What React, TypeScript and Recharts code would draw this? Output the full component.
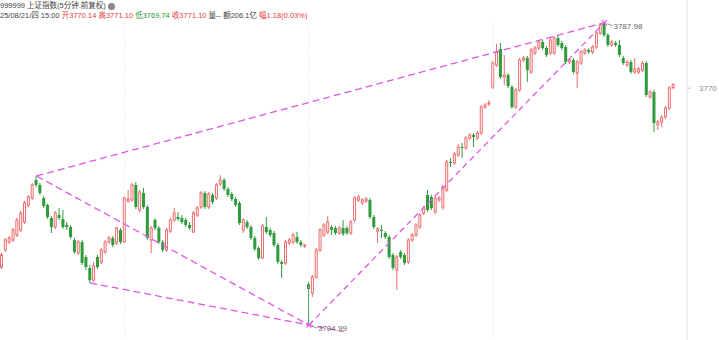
import { ComposedChart, Bar, XAxis, YAxis, ReferenceLine, ReferenceDot } from 'recharts';

// 5-minute bars, 999999 上证指数, last 176 bars (4 sessions, first one partial)
const opens = [
  3720.92, 3725.58, 3727.78, 3728.33, 3729.70, 3731.07, 3733.27, 3737.94, 3739.86, 3744.80,
  3743.43, 3739.86, 3737.94, 3734.37, 3731.90, 3735.19, 3734.09, 3732.45, 3731.90, 3728.33,
  3724.76, 3727.78, 3723.66, 3720.64, 3717.35, 3723.66, 3722.29, 3725.04, 3727.78, 3728.88,
  3727.51, 3731.07, 3727.78, 3739.04, 3739.31, 3743.43, 3736.56, 3741.23, 3737.39, 3728.33,
  3733.82, 3731.62, 3727.78, 3725.58, 3730.80, 3733.82, 3734.64, 3734.37, 3733.82, 3732.45,
  3730.53, 3735.19, 3737.39, 3741.23, 3737.39, 3740.68, 3739.86, 3743.70, 3744.80, 3742.33,
  3740.96, 3739.58, 3738.49, 3731.07, 3733.27, 3731.90, 3728.88, 3726.13, 3723.39, 3731.90,
  3731.07, 3730.25, 3726.96, 3722.29, 3722.02, 3727.51, 3727.78, 3729.15, 3727.78, 3726.68,
  3716.25, 3713.78, 3718.17, 3725.58, 3729.70, 3730.53, 3731.90, 3731.62, 3730.25, 3731.62,
  3731.62, 3730.25, 3733.82, 3739.31, 3738.49, 3739.04, 3739.31, 3734.64, 3730.80, 3731.07,
  3730.25, 3729.15, 3724.21, 3720.09, 3725.04, 3724.21, 3722.29, 3728.33, 3729.70, 3731.90,
  3735.74, 3740.68, 3740.13, 3736.02, 3739.31, 3737.39, 3742.05, 3749.74, 3749.47, 3751.66,
  3753.86, 3753.58, 3756.33, 3757.15, 3756.33, 3757.70, 3764.84, 3765.66, 3770.33, 3776.37,
  3780.76, 3773.07, 3773.62, 3770.33, 3764.84, 3769.50, 3777.74, 3778.29, 3774.45, 3779.66,
  3781.03, 3782.68, 3781.03, 3779.66, 3779.66, 3783.78, 3782.41, 3781.31, 3777.19, 3777.74,
  3774.17, 3776.92, 3779.66, 3780.48, 3779.94, 3781.31, 3785.15, 3787.90, 3784.60, 3781.86,
  3782.41, 3781.86, 3778.29, 3776.37, 3777.19, 3774.45, 3774.45, 3774.99, 3776.92, 3767.58,
  3768.96, 3759.90, 3760.72, 3762.09, 3764.56, 3770.14,
];
const highs = [
  3724.76, 3728.88, 3729.43, 3731.62, 3734.37, 3736.29, 3739.04, 3740.68, 3743.98, 3745.90,
  3743.98, 3740.41, 3738.21, 3734.92, 3736.29, 3737.11, 3736.56, 3733.27, 3732.45, 3728.88,
  3728.33, 3728.33, 3724.21, 3721.47, 3722.29, 3724.21, 3726.13, 3728.33, 3729.43, 3729.43,
  3731.90, 3731.62, 3740.41, 3742.05, 3743.98, 3744.25, 3742.05, 3742.60, 3737.94, 3732.17,
  3734.37, 3732.17, 3728.33, 3731.62, 3734.37, 3737.11, 3736.02, 3735.19, 3734.37, 3733.27,
  3736.29, 3737.66, 3741.78, 3741.78, 3741.51, 3741.23, 3743.98, 3746.17, 3745.35, 3742.88,
  3741.51, 3740.13, 3739.04, 3734.37, 3733.82, 3732.45, 3729.43, 3726.68, 3732.72, 3734.64,
  3731.62, 3730.80, 3727.51, 3722.84, 3728.33, 3728.88, 3730.25, 3730.53, 3728.33, 3727.23,
  3716.80, 3718.72, 3726.13, 3731.62, 3733.00, 3734.92, 3732.45, 3732.17, 3732.17, 3733.82,
  3732.17, 3733.82, 3740.41, 3740.68, 3739.86, 3740.13, 3739.86, 3735.19, 3731.90, 3732.45,
  3730.80, 3729.70, 3724.76, 3724.21, 3725.58, 3724.76, 3728.88, 3730.25, 3733.00, 3735.74,
  3737.66, 3742.05, 3740.68, 3740.41, 3740.41, 3743.43, 3750.29, 3750.84, 3752.49, 3754.68,
  3754.96, 3756.88, 3757.70, 3757.70, 3758.25, 3765.39, 3765.94, 3766.76, 3777.47, 3782.13,
  3782.41, 3779.11, 3774.17, 3770.88, 3770.05, 3778.29, 3778.84, 3778.84, 3781.03, 3781.58,
  3783.23, 3783.23, 3781.58, 3783.78, 3784.33, 3784.33, 3782.96, 3781.86, 3778.29, 3778.29,
  3777.74, 3780.48, 3781.03, 3781.03, 3781.86, 3785.70, 3787.90, 3787.98, 3785.15, 3783.23,
  3782.96, 3783.23, 3778.84, 3777.74, 3777.74, 3778.29, 3775.82, 3777.47, 3777.47, 3769.50,
  3769.50, 3761.27, 3762.64, 3765.11, 3770.60, 3771.10,
];
const lows = [
  3720.37, 3725.04, 3727.23, 3727.78, 3729.15, 3730.53, 3732.72, 3737.39, 3739.31, 3742.88,
  3740.68, 3737.11, 3734.09, 3730.25, 3731.35, 3733.82, 3731.35, 3731.07, 3728.60, 3724.49,
  3724.21, 3721.47, 3720.09, 3716.53, 3716.80, 3720.37, 3721.74, 3724.49, 3727.23, 3726.41,
  3726.96, 3727.23, 3727.51, 3738.49, 3738.76, 3736.84, 3736.02, 3736.84, 3728.33, 3724.76,
  3731.07, 3727.23, 3725.04, 3725.04, 3730.25, 3733.27, 3733.55, 3732.72, 3731.90, 3731.07,
  3730.25, 3734.64, 3736.84, 3736.84, 3736.84, 3738.21, 3739.31, 3743.15, 3741.78, 3740.13,
  3739.04, 3737.39, 3732.45, 3730.25, 3731.35, 3728.33, 3725.31, 3722.84, 3723.11, 3729.98,
  3729.15, 3726.41, 3721.74, 3717.90, 3721.47, 3726.96, 3727.23, 3727.23, 3726.41, 3726.13,
  3704.99, 3712.68, 3717.62, 3725.04, 3729.15, 3729.98, 3729.70, 3729.70, 3729.70, 3729.43,
  3729.70, 3729.70, 3733.27, 3738.76, 3737.94, 3738.49, 3734.09, 3731.35, 3727.51, 3728.88,
  3728.60, 3723.11, 3720.09, 3714.60, 3723.11, 3721.47, 3721.74, 3727.78, 3729.15, 3731.35,
  3735.19, 3736.02, 3736.56, 3735.47, 3738.76, 3736.56, 3741.51, 3748.37, 3748.92, 3751.11,
  3750.84, 3753.03, 3755.78, 3753.86, 3755.78, 3757.15, 3764.29, 3765.11, 3769.78, 3775.82,
  3772.52, 3770.88, 3770.05, 3764.29, 3764.29, 3768.96, 3777.19, 3771.70, 3773.90, 3779.11,
  3780.48, 3780.48, 3778.56, 3779.11, 3779.11, 3781.31, 3780.48, 3776.64, 3776.64, 3773.90,
  3770.05, 3776.37, 3779.11, 3779.39, 3779.39, 3780.76, 3784.60, 3784.05, 3781.31, 3781.31,
  3781.31, 3778.56, 3776.37, 3775.82, 3773.90, 3773.90, 3773.90, 3774.45, 3767.58, 3767.03,
  3757.98, 3758.52, 3759.35, 3761.54, 3764.01, 3769.74,
];
const closes = [
  3724.21, 3728.33, 3728.88, 3731.07, 3733.82, 3735.74, 3738.49, 3740.13, 3743.43, 3743.43,
  3741.23, 3737.66, 3734.64, 3731.90, 3735.74, 3734.37, 3731.90, 3731.90, 3729.15, 3725.04,
  3727.78, 3722.02, 3720.92, 3717.35, 3721.19, 3720.92, 3725.58, 3727.78, 3728.88, 3726.96,
  3731.62, 3727.78, 3739.86, 3739.58, 3743.43, 3737.39, 3741.51, 3737.39, 3728.88, 3731.62,
  3731.62, 3727.78, 3725.58, 3731.07, 3733.82, 3735.74, 3734.09, 3733.27, 3732.45, 3731.62,
  3735.74, 3737.11, 3741.23, 3737.39, 3740.96, 3738.76, 3743.43, 3744.80, 3742.33, 3740.68,
  3739.58, 3737.94, 3733.00, 3733.82, 3731.90, 3728.88, 3725.86, 3723.39, 3732.17, 3730.53,
  3729.70, 3726.96, 3722.29, 3721.74, 3727.78, 3728.33, 3729.70, 3727.78, 3726.96, 3726.96,
  3714.88, 3718.17, 3725.58, 3731.07, 3732.45, 3733.27, 3731.07, 3730.25, 3731.62, 3729.98,
  3730.25, 3733.27, 3739.86, 3740.13, 3739.31, 3739.58, 3734.64, 3731.90, 3731.35, 3730.80,
  3729.15, 3723.66, 3720.64, 3723.66, 3723.66, 3722.02, 3728.33, 3729.70, 3732.45, 3735.19,
  3737.11, 3736.56, 3737.11, 3739.86, 3739.86, 3742.88, 3749.74, 3749.47, 3751.94, 3753.86,
  3753.58, 3756.33, 3757.15, 3756.60, 3757.70, 3764.84, 3765.39, 3765.94, 3776.92, 3779.94,
  3773.07, 3773.62, 3770.60, 3764.84, 3769.50, 3777.74, 3778.29, 3774.99, 3780.48, 3781.03,
  3782.68, 3781.03, 3779.11, 3783.23, 3783.78, 3781.86, 3781.03, 3777.19, 3777.74, 3774.45,
  3777.19, 3779.94, 3780.48, 3779.94, 3781.31, 3785.15, 3787.35, 3784.60, 3781.86, 3782.68,
  3781.86, 3779.11, 3776.92, 3777.19, 3774.45, 3775.27, 3775.27, 3776.92, 3768.13, 3768.96,
  3760.45, 3760.72, 3762.09, 3764.56, 3770.05, 3771.10,
];

// first bar of each session (index), pivots used by the drawn trend lines
const sessionStarts = [32, 80, 128];
const leftHighIdx = 9;
const leftLowIdx = 23;
const emptySlots = 3;
const yTicks = [3770];
const yDomain = [3700.88, 3794.21];
const gridTop = 3788.0;

const UP = '#ee6c6c';
const DOWN = '#2f9b3d';
const TREND = '#df58e3';

const rows = [
  ...opens.map((o, i) => ({ i, open: o, high: highs[i], low: lows[i], close: closes[i] })),
  ...Array.from({ length: emptySlots }, (_, k) => ({ i: opens.length + k })),
];

const peakIdx = highs.indexOf(Math.max(...highs));
const lowIdx = lows.indexOf(Math.min(...lows));
const peak = highs[peakIdx];
const bottom = lows[lowIdx];

// lower trend line is drawn a little past the low point
const l3Slope = (bottom - lows[leftLowIdx]) / (lowIdx - leftLowIdx);
const l3EndIdx = lowIdx + 9;
const l3End = bottom + l3Slope * (l3EndIdx - lowIdx);

const Candle = (props: any) => {
  const { x, y, width, height, payload } = props;
  if (payload == null || payload.open == null) return null;
  const { open, close, high, low } = payload;
  const top = Math.min(y, y + height);
  const h = Math.abs(height);
  const span = high - low || 1;
  const py = (v: number) => top + ((high - v) / span) * h;
  const up = close >= open;
  const color = up ? UP : DOWN;
  const cx = x + width / 2;
  const bTop = py(Math.max(open, close));
  const bBot = py(Math.min(open, close));
  return (
    <g>
      <line x1={cx} x2={cx} y1={top} y2={bTop} stroke={color} strokeWidth={1} />
      <line x1={cx} x2={cx} y1={bBot} y2={top + h} stroke={color} strokeWidth={1} />
      {up ? (
        <rect x={x + 0.5} y={bTop} width={width - 1} height={Math.max(bBot - bTop, 1)} fill="#fff" stroke={color} strokeWidth={1} />
      ) : (
        <rect x={x} y={bTop} width={width} height={Math.max(bBot - bTop, 1)} fill={color} />
      )}
    </g>
  );
};

const Mark = (props: any) => {
  const { cx, cy, text, dy } = props;
  if (cx == null || cy == null) return null;
  return (
    <g>
      <line x1={cx - 2.5} x2={cx + 2.5} y1={cy - 2.5} y2={cy + 2.5} stroke={TREND} strokeWidth={1.2} />
      <line x1={cx - 2.5} x2={cx + 2.5} y1={cy + 2.5} y2={cy - 2.5} stroke={TREND} strokeWidth={1.2} />
      <line x1={cx + 3} x2={cx + 8} y1={cy + 1} y2={cy + dy} stroke="#999" strokeWidth={1} />
      <text x={cx + 9} y={cy + dy + 3} fontSize={8} fill="#666" fontFamily="Liberation Sans, Arial, sans-serif">
        {text}
      </text>
    </g>
  );
};

const red = '#e8403c';
const green = '#1f9a2c';

const App = () => {
  return (
    <div style={{ position: 'absolute', left: 0, top: 0, width: 719, height: 340, background: '#fff', overflow: 'hidden' }}>
      <ComposedChart width={719} height={340} data={rows} margin={{ top: 0, right: 0, bottom: 0, left: 0 }}>
        <XAxis dataKey="i" type="category" hide />
        <YAxis
          orientation="right"
          width={32}
          domain={yDomain}
          allowDataOverflow
          ticks={yTicks}
          tickSize={4}
          tickMargin={8}
          axisLine={{ stroke: '#e2e2e2' }}
          tickLine={{ stroke: '#c8c8c8' }}
          tick={{ fontSize: 8, fill: '#8a8a8a', fontFamily: 'Liberation Sans, Arial, sans-serif' }}
        />
        {sessionStarts.map((s) => (
          <ReferenceLine
            key={s}
            segment={[{ x: s, y: gridTop }, { x: s, y: yDomain[0] }]}
            stroke="#e2e2e2"
            strokeDasharray="1 2"
            ifOverflow="visible"
          />
        ))}
        <Bar
          dataKey={(d: any) => (d.open == null ? null : [d.low, d.high])}
          barSize={3}
          shape={(p: any) => <Candle {...p} />}
          isAnimationActive={false}
        />
        <ReferenceLine
          segment={[{ x: leftHighIdx, y: highs[leftHighIdx] }, { x: peakIdx, y: peak }]}
          stroke={TREND}
          strokeWidth={1.3}
          strokeDasharray="7 4"
          ifOverflow="visible"
        />
        <ReferenceLine
          segment={[{ x: leftHighIdx, y: highs[leftHighIdx] }, { x: lowIdx, y: bottom }]}
          stroke={TREND}
          strokeWidth={1.3}
          strokeDasharray="7 4"
          ifOverflow="visible"
        />
        <ReferenceLine
          segment={[{ x: leftLowIdx, y: lows[leftLowIdx] }, { x: l3EndIdx, y: l3End }]}
          stroke={TREND}
          strokeWidth={1.3}
          strokeDasharray="7 4"
          ifOverflow="visible"
        />
        <ReferenceLine
          segment={[{ x: lowIdx, y: bottom }, { x: peakIdx, y: peak }]}
          stroke={TREND}
          strokeWidth={1.3}
          strokeDasharray="6 4"
          ifOverflow="visible"
        />
        <ReferenceDot x={peakIdx} y={peak} ifOverflow="visible" shape={(p: any) => <Mark {...p} text={peak.toFixed(2)} dy={3} />} />
        <ReferenceDot x={lowIdx} y={bottom} ifOverflow="visible" shape={(p: any) => <Mark {...p} text={bottom.toFixed(2)} dy={3} />} />
      </ComposedChart>
      <div
        style={{
          position: 'absolute',
          left: 0,
          top: 0,
          fontSize: 7.5,
          lineHeight: '10px',
          fontFamily: '"Liberation Sans", Arial, "Noto Sans CJK SC", sans-serif',
          color: '#444',
          background: '#fff',
          whiteSpace: 'nowrap',
          paddingTop: 1,
        }}
      >
        <div>
          999999 上证指数(5分钟.前复权){' '}
          <span style={{ display: 'inline-block', width: 7, height: 7, borderRadius: '50%', background: '#8a8a8a', verticalAlign: 'middle' }} />
        </div>
        <div>
          25/08/21/四 15:00 <span style={{ color: red }}>开3770.14</span> <span style={{ color: red }}>高3771.10</span>{' '}
          <span style={{ color: green }}>低3769.74</span> <span style={{ color: red }}>收3771.10</span> 量-- 额206.1亿{' '}
          <span style={{ color: red }}>幅1.18(0.03%)</span>
        </div>
      </div>
    </div>
  );
};

export default App;
